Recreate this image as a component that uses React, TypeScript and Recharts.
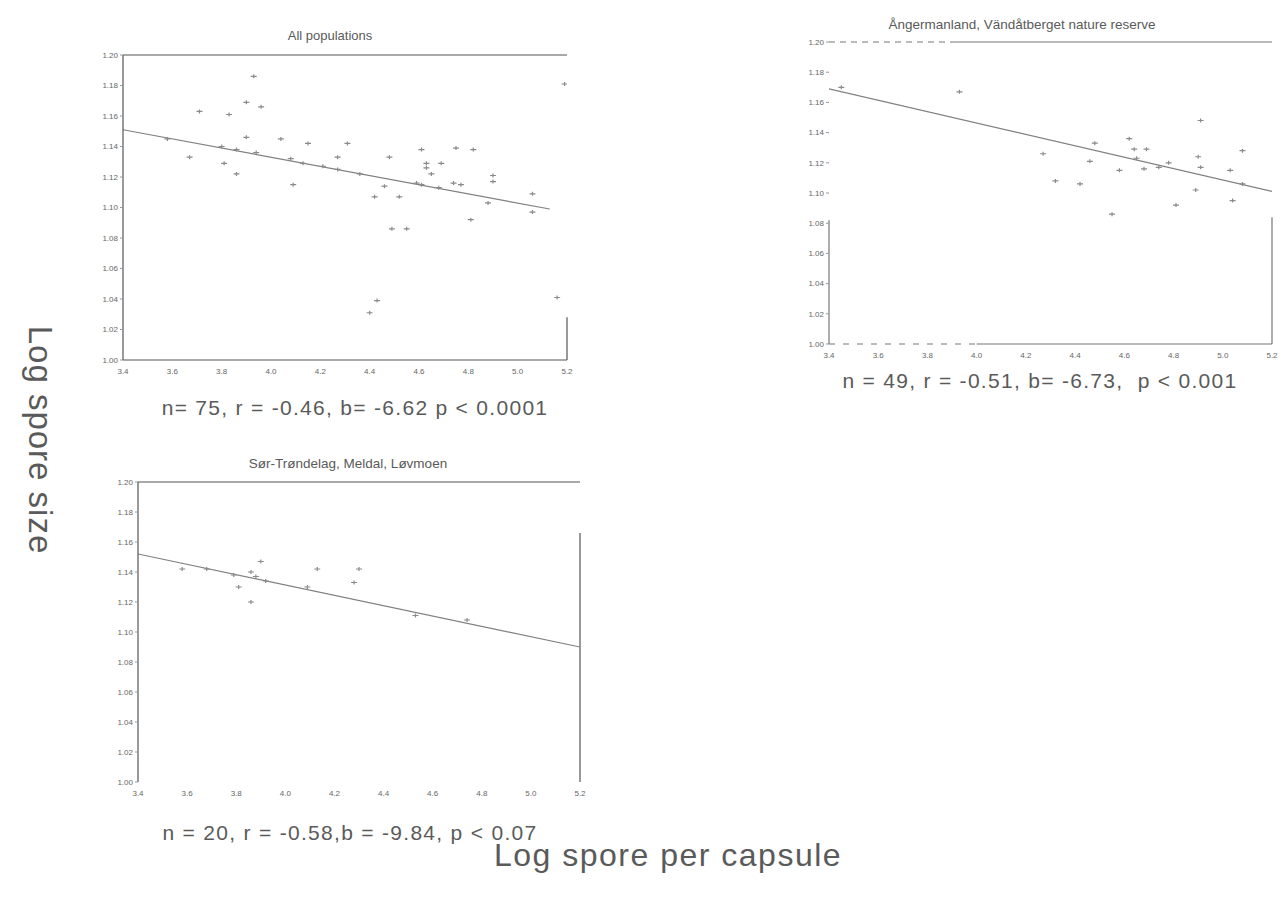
import React from 'react';
import { ComposedChart, Scatter, Line, XAxis, YAxis, ReferenceLine } from 'recharts';

// axis ticks shared by the three panels
const xTicks = [3.4, 3.6, 3.8, 4.0, 4.2, 4.4, 4.6, 4.8, 5.0, 5.2];
const yTicks = [1.0, 1.02, 1.04, 1.06, 1.08, 1.1, 1.12, 1.14, 1.16, 1.18, 1.2];

// All populations
const allX = [3.71, 3.9, 3.93, 3.96, 3.83, 3.9, 3.86, 3.8, 3.81, 3.67, 3.86, 4.08, 4.09, 4.13, 4.15, 4.21, 4.27, 4.27, 4.31, 4.36, 4.42, 4.46, 4.48, 4.52, 4.49, 4.55, 4.43, 4.4, 4.61, 4.63, 4.63, 4.65, 4.69, 4.59, 4.61, 4.68, 4.75, 4.82, 4.74, 4.77, 4.9, 4.9, 4.81, 4.88, 5.06, 5.06, 5.19, 5.16, 3.94, 4.04, 3.58];
const allY = [1.163, 1.169, 1.186, 1.166, 1.161, 1.146, 1.138, 1.14, 1.129, 1.133, 1.122, 1.132, 1.115, 1.129, 1.142, 1.127, 1.125, 1.133, 1.142, 1.122, 1.107, 1.114, 1.133, 1.107, 1.086, 1.086, 1.039, 1.031, 1.138, 1.129, 1.126, 1.122, 1.129, 1.116, 1.115, 1.113, 1.139, 1.138, 1.116, 1.115, 1.121, 1.117, 1.092, 1.103, 1.109, 1.097, 1.181, 1.041, 1.136, 1.145, 1.145];
const allFitX = [3.4, 5.13];
const allFitY = [1.151, 1.099];

// Ångermanland
const angX = [3.93, 4.27, 4.46, 4.48, 4.58, 4.62, 4.64, 4.65, 4.69, 4.74, 4.78, 4.9, 4.91, 4.55, 4.81, 4.89, 5.03, 5.04, 4.91, 5.08, 5.08, 4.32, 4.42, 4.68, 3.45];
const angY = [1.167, 1.126, 1.121, 1.133, 1.115, 1.136, 1.129, 1.123, 1.129, 1.117, 1.12, 1.124, 1.117, 1.086, 1.092, 1.102, 1.115, 1.095, 1.148, 1.128, 1.106, 1.108, 1.106, 1.116, 1.17];
const angFitX = [3.4, 5.2];
const angFitY = [1.169, 1.101];

// Sør-Trøndelag
const sorX = [3.58, 3.68, 3.86, 3.9, 3.88, 3.81, 3.86, 4.09, 4.13, 4.3, 4.28, 4.53, 3.79, 3.92, 4.74];
const sorY = [1.142, 1.142, 1.14, 1.147, 1.137, 1.13, 1.12, 1.13, 1.142, 1.142, 1.133, 1.111, 1.138, 1.134, 1.108];
const sorFitX = [3.4, 5.2];
const sorFitY = [1.152, 1.09];

const zip = (xs: number[], ys: number[]) => xs.map((x, i) => ({ x, y: ys[i] }));

const FONT = '"Liberation Sans", Arial, sans-serif';

function Mark(props: any) {
  const { cx, cy } = props;
  if (cx == null || cy == null) return null;
  return (
    <path
      d={`M${cx - 3},${cy}h6M${cx},${cy - 2}v4`}
      stroke="#8a8a8a"
      strokeWidth={1.2}
      fill="none"
    />
  );
}

type Seg = { x1: number; y1: number; x2: number; y2: number; dash?: string };

interface PanelProps {
  left: number;
  top: number;
  width: number;
  height: number;
  points: { x: number; y: number }[];
  fit: { x: number; y: number }[];
  frame: Seg[];
  leftAxis: boolean;
  bottomAxis: boolean;
  color: string;
}

function Panel({ left, top, width, height, points, fit, frame, leftAxis, bottomAxis, color }: PanelProps) {
  const tickStyle = { fontSize: 8, fill: '#666', fontFamily: FONT };
  return (
    <div style={{ position: 'absolute', left, top }}>
      <ComposedChart width={width} height={height} margin={{ top: 10, right: 10, left: 0, bottom: 0 }}>
        <XAxis
          type="number"
          dataKey="x"
          domain={[3.4, 5.2]}
          ticks={xTicks}
          allowDataOverflow
          tickFormatter={(v: number) => v.toFixed(1)}
          tick={tickStyle}
          tickLine={false}
          axisLine={bottomAxis ? { stroke: color, strokeWidth: 1.2 } : false}
          height={20}
        />
        <YAxis
          type="number"
          dataKey="y"
          domain={[1.0, 1.2]}
          ticks={yTicks}
          allowDataOverflow
          tickFormatter={(v: number) => v.toFixed(2)}
          tick={tickStyle}
          tickSize={3}
          tickLine={{ stroke: '#999' }}
          axisLine={leftAxis ? { stroke: color, strokeWidth: 1.2 } : false}
          width={33}
        />
        {frame.map((s, i) => (
          <ReferenceLine
            key={i}
            segment={[{ x: s.x1, y: s.y1 }, { x: s.x2, y: s.y2 }]}
            stroke={color}
            strokeWidth={1.2}
            strokeDasharray={s.dash}
            ifOverflow="visible"
          />
        ))}
        <Line
          data={fit}
          dataKey="y"
          type="linear"
          stroke="#808080"
          strokeWidth={1.2}
          dot={false}
          activeDot={false}
          isAnimationActive={false}
        />
        <Scatter data={points} dataKey="y" shape={Mark} isAnimationActive={false} />
      </ComposedChart>
    </div>
  );
}

const textStyle = (x: number, y: number, size: number, w: number, spacing = 0): React.CSSProperties => ({
  position: 'absolute',
  left: x - w / 2,
  top: y,
  width: w,
  textAlign: 'center',
  fontFamily: FONT,
  fontSize: size,
  lineHeight: 1,
  letterSpacing: spacing,
  color: '#5a5a5a',
  whiteSpace: 'nowrap',
});

export default function App() {
  return (
    <div style={{ position: 'fixed', left: 0, top: 0, width: 1286, height: 899, background: '#fff', overflow: 'hidden' }}>
      <div style={textStyle(330, 29, 13, 200)}>All populations</div>
      <Panel
        left={90}
        top={45}
        width={487}
        height={335}
        points={zip(allX, allY)}
        fit={zip(allFitX, allFitY)}
        frame={[
          { x1: 3.4, y1: 1.2, x2: 5.2, y2: 1.2 },
          { x1: 5.2, y1: 1.0, x2: 5.2, y2: 1.028 },
        ]}
        leftAxis
        bottomAxis
        color="#555"
      />
      <div style={textStyle(355, 397, 21, 480, 1.3)}>n= 75, r = -0.46, b= -6.62 p &lt; 0.0001</div>

      <div style={textStyle(1022, 18, 13.5, 360)}>Ångermanland, Vändåtberget nature reserve</div>
      <Panel
        left={796}
        top={32}
        width={486}
        height={332}
        points={zip(angX, angY)}
        fit={zip(angFitX, angFitY)}
        frame={[
          { x1: 3.4, y1: 1.2, x2: 3.9, y2: 1.2, dash: '6 5' },
          { x1: 3.9, y1: 1.2, x2: 5.2, y2: 1.2 },
          { x1: 3.4, y1: 1.0, x2: 4.0, y2: 1.0, dash: '6 8' },
          { x1: 4.0, y1: 1.0, x2: 5.2, y2: 1.0 },
          { x1: 3.4, y1: 1.0, x2: 3.4, y2: 1.082 },
          { x1: 5.2, y1: 1.0, x2: 5.2, y2: 1.084 },
        ]}
        leftAxis={false}
        bottomAxis={false}
        color="#777"
      />
      <div style={textStyle(1040, 370, 21, 500, 1.3)}>n = 49, r = -0.51, b= -6.73,&nbsp; p &lt; 0.001</div>

      <div style={textStyle(348, 457, 13.5, 300)}>Sør-Trøndelag, Meldal, Løvmoen</div>
      <Panel
        left={105}
        top={472}
        width={485}
        height={330}
        points={zip(sorX, sorY)}
        fit={zip(sorFitX, sorFitY)}
        frame={[
          { x1: 3.4, y1: 1.2, x2: 5.2, y2: 1.2 },
          { x1: 5.2, y1: 1.0, x2: 5.2, y2: 1.166 },
        ]}
        leftAxis
        bottomAxis={false}
        color="#555"
      />
      <div style={textStyle(350, 822, 21, 480, 1.3)}>n = 20, r = -0.58,b = -9.84, p &lt; 0.07</div>

      <div style={textStyle(668, 839, 32, 640, 1.5)}>Log spore per capsule</div>
      <div
        style={{
          position: 'absolute',
          left: 40 - 150,
          top: 440 - 20,
          width: 300,
          height: 40,
          lineHeight: '40px',
          textAlign: 'center',
          fontFamily: FONT,
          fontSize: 33,
          letterSpacing: 1,
          color: '#5a5a5a',
          transform: 'rotate(90deg)',
          whiteSpace: 'nowrap',
        }}
      >
        Log spore size
      </div>
    </div>
  );
}
